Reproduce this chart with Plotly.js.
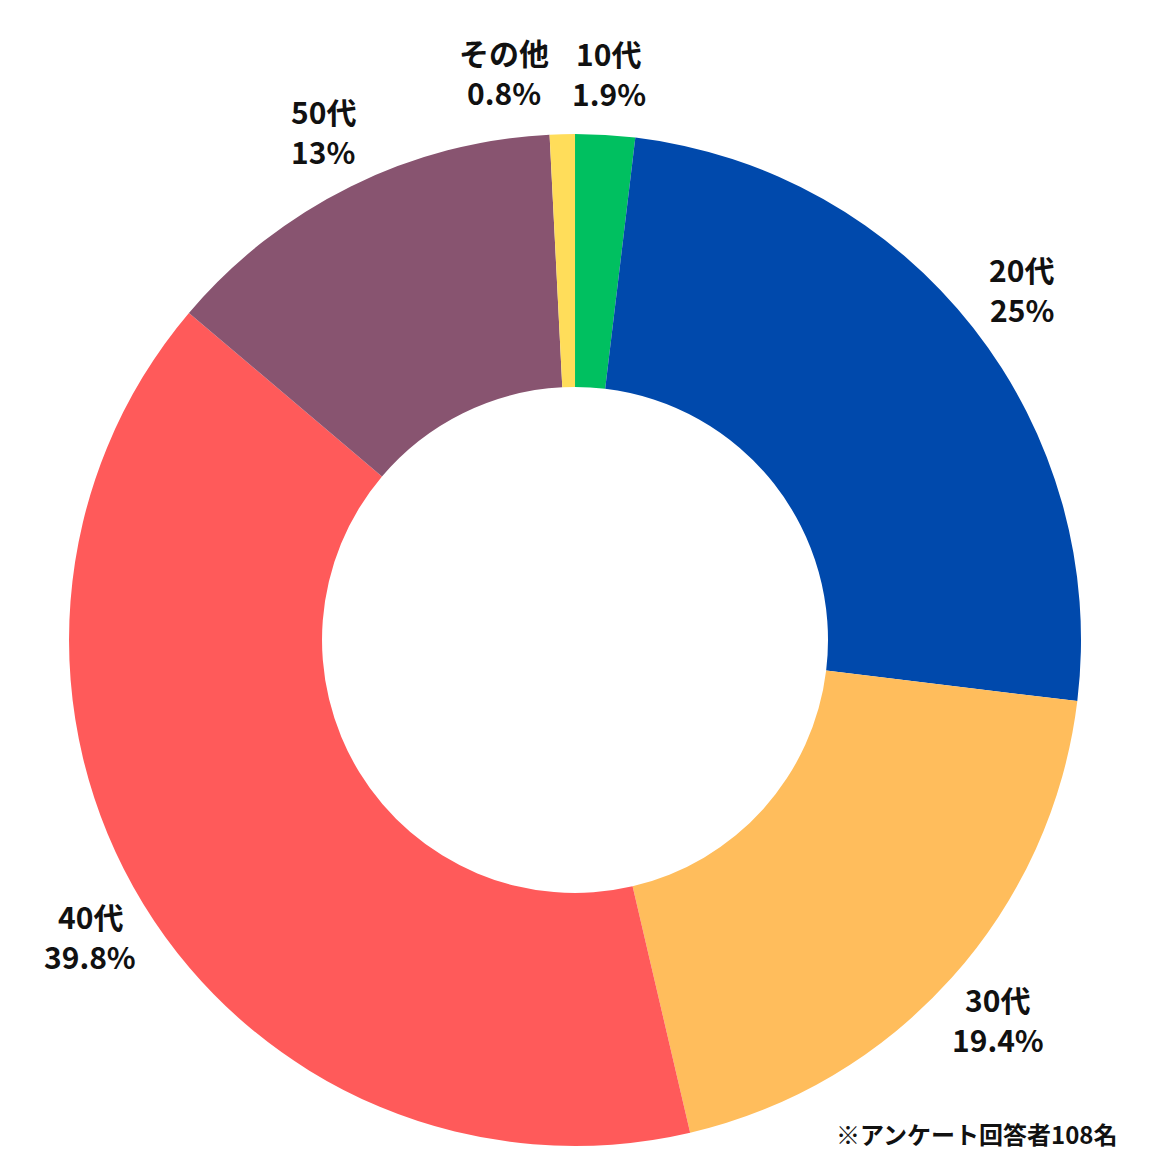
<!DOCTYPE html>
<html><head><meta charset="utf-8">
<script src="https://cdn.plot.ly/plotly-3.0.1.min.js"></script>
<style>html,body{margin:0;padding:0;background:#fff}</style>
</head><body>
<div id="chart" style="width:1164px;height:1173px"></div>
<script>
const categories = ['10代','20代','30代','40代','50代','その他'];
const percents = [1.9, 25, 19.4, 39.8, 13, 0.8];
const colors = ['#00C060','#0049AC','#FFBD5C','#FF5A5A','#885470','#FFDD5A'];
const footnote = '※アンケート回答者108名';

const W = 1164, H = 1173;
const CX = 575, CY = 640, LABEL_R = 568, LINE_GAP = 40;
const FONT = '"Noto Sans CJK JP", "Noto Sans", sans-serif';

const trace = {
  type:'pie',
  labels: categories,
  values: percents,
  textinfo:'none',
  hoverinfo:'none',
  sort:false,
  direction:'clockwise',
  rotation:0,
  hole:0.5,
  marker:{colors:colors, line:{width:0}},
  domain:{x:[0.0593,0.9287], y:[0.023,0.8858]},
  showlegend:false
};

// label positions derived from each slice's mid-angle
const total = percents.reduce((a,b)=>a+b,0);
let cum = 0;
const placed = [];
const annotations = [];
function addText(txt, px, py, size){
  annotations.push({
    text:'<b>'+txt+'</b>',
    xref:'paper', yref:'paper', x:px/W, y:1-py/H,
    xanchor:'center', yanchor:'middle', showarrow:false,
    font:{family:FONT, size:size, color:'#111'}
  });
}
percents.forEach((v,i)=>{
  const mid = (cum + v/2) / total * 2*Math.PI;
  cum += v;
  let px = CX + LABEL_R*Math.sin(mid);
  let py = CY - LABEL_R*Math.cos(mid);
  // simple overlap avoidance
  placed.forEach(p=>{
    if (Math.abs(px-p.x) < 105 && Math.abs(py-p.y) < 60) {
      px = p.x - 105;
    }
  });
  placed.push({x:px,y:py});
  addText(categories[i], px, py - LINE_GAP/2, 30);
  addText(v + '%', px, py + LINE_GAP/2, 30);
});
annotations.push({
  text:'<b>'+footnote+'</b>',
  xref:'paper', yref:'paper', x:1120/W, y:1-1133/H, xanchor:'right', yanchor:'middle',
  showarrow:false,
  font:{family:FONT, size:24, color:'#111'}
});

const layout = {
  width:W, height:H,
  margin:{l:0,r:0,t:0,b:0},
  paper_bgcolor:'#fff',
  showlegend:false,
  annotations:annotations
};
Plotly.newPlot('chart',[trace],layout,{displayModeBar:false, staticPlot:true});
</script>
</body></html>
